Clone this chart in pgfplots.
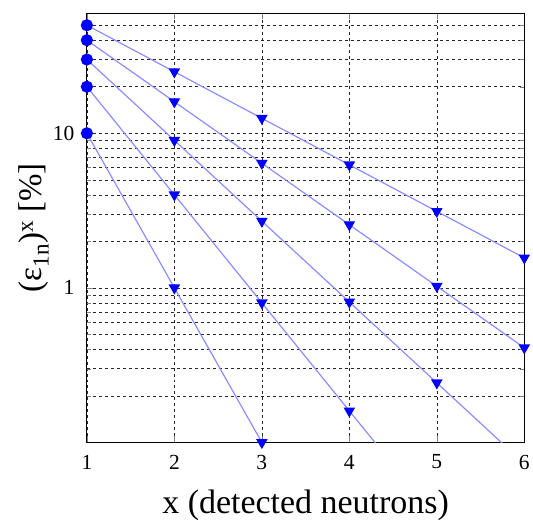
\documentclass[border=0pt]{standalone}
\usepackage{fontspec}
\setmainfont{Liberation Serif}
\usepackage{pgfplots}
\pgfplotsset{compat=1.18}
\definecolor{lineblue}{RGB}{140,140,255}
\begin{document}
\begin{tikzpicture}
\begin{axis}[
  scale only axis, width=438pt, height=430pt,
  ymode=log, xmin=1, xmax=6, ymin=0.1, ymax=60,
  xtick={1,2,3,4,5,6}, xticklabels={1,2,3,4,5,6},
  ytick={1,10}, yticklabels={1,10},
  minor ytick={0.2,0.3,0.4,0.5,0.6,0.7,0.8,0.9,2,3,4,5,6,7,8,9,20,30,40,50},
  xmajorgrids, ymajorgrids, yminorgrids,
  major grid style={black!85, line width=0.5pt, dash pattern=on 3pt off 3pt},
  minor grid style={black!85, line width=0.5pt, dash pattern=on 3pt off 3pt},
  tick align=inside, major tick length=6pt, minor tick length=4pt,
  axis line style={black, line width=0.8pt},
  tick label style={font=\fontsize{21.5}{23}\selectfont},
  xticklabel style={yshift=-9pt},
  yticklabel style={xshift=-9pt},
  xlabel={x (detected neutrons)},
  ylabel={(ε\textsubscript{1n})\textsuperscript{x} [\%]},
  xlabel style={font=\fontsize{34}{36}\selectfont, at={(axis description cs:0.5,0)}, anchor=base, yshift=-71pt},
  ylabel style={font=\fontsize{33}{35}\selectfont, at={(axis description cs:-0.121,0.5)}, anchor=center},
]
\pgfplotsset{every axis plot/.append style={line width=1.2pt}}
\addplot[lineblue, no marks] coordinates {(1,50) (2,25) (3,12.5) (4,6.25) (5,3.125) (6,1.5625)};
\addplot[lineblue, no marks] coordinates {(1,40) (2,16) (3,6.4) (4,2.56) (5,1.024) (6,0.4096)};
\addplot[lineblue, no marks] coordinates {(1,30) (2,9) (3,2.7) (4,0.81) (5,0.243) (6,0.0729)};
\addplot[lineblue, no marks] coordinates {(1,20) (2,4) (3,0.8) (4,0.16) (5,0.032) (6,0.0064)};
\addplot[lineblue, no marks] coordinates {(1,10) (2,1) (3,0.1) (4,0.01) (5,0.001) (6,0.0001)};
\addplot[only marks, blue, mark=*, mark size=5.5pt] coordinates {(1,50) (1,40) (1,30) (1,20) (1,10)};
\addplot[only marks, blue, mark=triangle*, mark size=5.5pt, mark options={rotate=180}] coordinates {
(2,25) (3,12.5) (4,6.25) (5,3.125) (6,1.5625)
(2,16) (3,6.4) (4,2.56) (5,1.024) (6,0.4096)
(2,9) (3,2.7) (4,0.81) (5,0.243)
(2,4) (3,0.8) (4,0.16)
(2,1) (3,0.1)};
\end{axis}
\path[use as bounding box] ([xshift=-87pt,yshift=-75pt]current axis.south west) rectangle ([xshift=8pt,yshift=13pt]current axis.north east);
\end{tikzpicture}
\end{document}
